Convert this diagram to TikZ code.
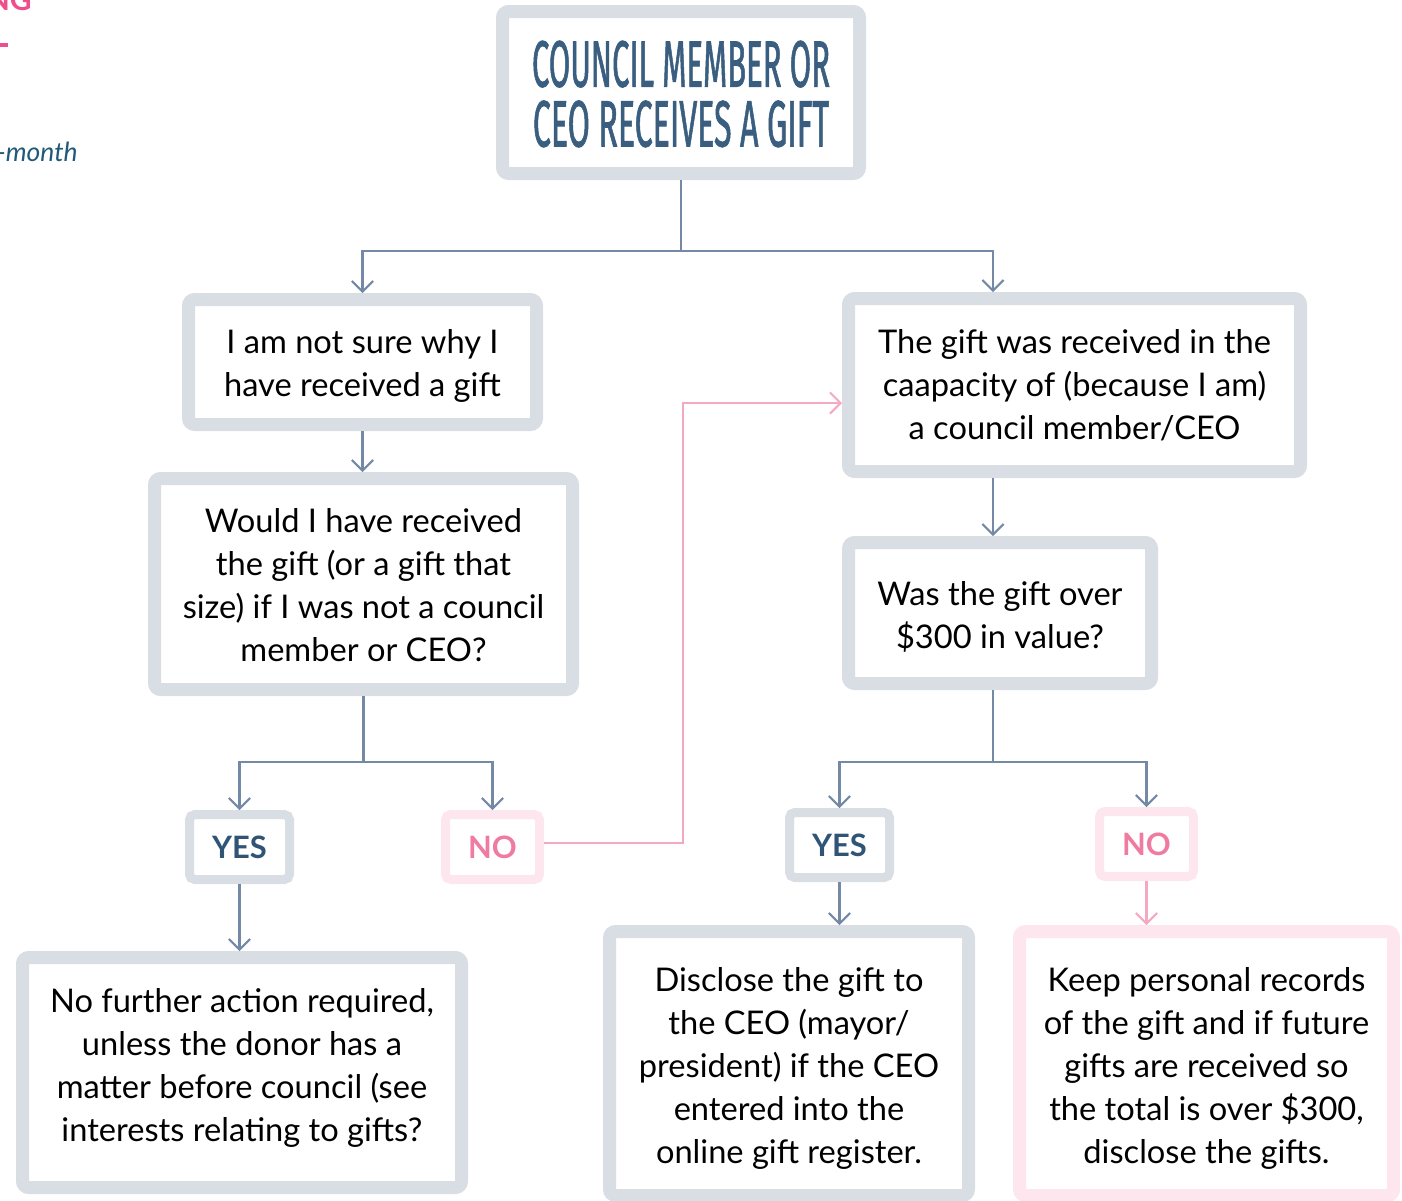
\documentclass[tikz,border=0pt]{standalone}
\usepackage{graphicx}
\usepackage{fontspec}
\setmainfont{Lato}
\newfontfamily\titlefont[FakeBold=1.6]{Fira Sans}
\usetikzlibrary{arrows.meta}
\definecolor{gborder}{HTML}{D9DEE4}
\definecolor{pborder}{HTML}{FDE6ED}
\definecolor{connc}{HTML}{7489A6}
\definecolor{pconnc}{HTML}{F5A8C2}
\definecolor{titlec}{HTML}{3A5E7F}
\definecolor{yesc}{HTML}{2F5475}
\definecolor{noc}{HTML}{EF7BA1}
\definecolor{hdc}{HTML}{EE4F8C}
\definecolor{monthc}{HTML}{1F5A78}
\def\u{0.56712pt}
\begin{document}
\begin{tikzpicture}[x=0.56712pt, y=-0.56712pt,
  bigbox/.style={draw=gborder, fill=white, line width=13*\u, rounded corners=3.5pt, inner sep=0pt},
  pinkbig/.style={bigbox, draw=pborder},
  txt/.style={align=center, inner sep=0pt, font=\fontsize{18.5}{24.4}\selectfont},
  smallbox/.style={draw=gborder, fill=white, line width=9*\u, rounded corners=3pt,
    align=center, inner sep=0pt, minimum width=100*\u, minimum height=65*\u,
    font=\fontsize{17.5}{20}\selectfont\bfseries, text=yesc},
  pinksmall/.style={smallbox, draw=pborder, minimum width=94*\u, text=noc},
  connl/.style={draw=connc, line width=1.2pt, -{Straight Barb[length=6pt,width=12pt]}},
  pconnl/.style={connl, draw=pconnc},
  titletext/.style={text=titlec, inner sep=0pt, align=center}
]
\useasboundingbox (0,0) rectangle (1402,1200);

% fragments at top-left
\node[anchor=base east, text=hdc, inner sep=0pt, font=\fontsize{17}{17}\selectfont\bfseries] (hd) at (32,10) {NG};
\fill[hdc] (0,43) rectangle (8,47);
\node[anchor=base east, text=monthc, inner sep=0pt, font=\fontsize{15}{18}\selectfont\itshape] (mo) at (78,161) {-month};

% title
\node[bigbox, minimum width=357*\u, minimum height=162*\u] (t) at (681,92.5) {};
\node[titletext] (tt) at (681,94)
  {\resizebox{169pt}{26pt}{\titlefont COUNCIL MEMBER OR}\\[6.5pt]%
   \resizebox{168pt}{26pt}{\titlefont CEO RECEIVES A GIFT}};

% boxes
\node[bigbox, minimum width=348*\u, minimum height=125*\u] (b1) at (362.5,362) {};
\node[txt] (b1t) at ([yshift={-4*\u}]b1.center) {I am not sure why I\\have received a gift};
\node[bigbox, minimum width=418*\u, minimum height=211*\u] (b2) at (363.5,584) {};
\node[txt] (b2t) at ([yshift={-1*\u}]b2.center) {Would I have received\\the gift (or a gift that\\size) if I was not a council\\member or CEO?};
\node[bigbox, minimum width=452*\u, minimum height=173*\u] (b3) at (1074.5,385) {};
\node[txt] (b3t) at (b3.center) {The gift was received in the\\caapacity of (because I am)\\a council member/CEO};
\node[bigbox, minimum width=303*\u, minimum height=141*\u] (b4) at (1000,613) {};
\node[txt] (b4t) at ([yshift={-3.5*\u}]b4.center) {Was the gift over\\\$300 in value?};
\node[smallbox] (y1) at (239.5,847) {YES};
\node[pinksmall] (n1) at (492.5,847) {NO};
\node[smallbox] (y2) at (839.5,845) {YES};
\node[pinksmall] (n2) at (1146.5,844) {NO};
\node[bigbox, minimum width=439*\u, minimum height=230*\u] (b5) at (242,1072.5) {};
\node[txt] (b5t) at ([yshift={5*\u}]b5.center) {No further action required,\\unless the donor has a\\matter before council (see\\interests relating to gifts?};
\node[bigbox, minimum width=359*\u, minimum height=264*\u] (b6) at (789,1063.5) {};
\node[txt] (b6t) at ([yshift={-5*\u}]b6.center) {Disclose the gift to\\the CEO (mayor/\\president) if the CEO\\entered into the\\online gift register.};
\node[pinkbig, minimum width=374*\u, minimum height=264*\u] (b7) at (1206.5,1063.5) {};
\node[txt] (b7t) at ([yshift={-5*\u}]b7.center) {Keep personal records\\of the gift and if future\\gifts are received so\\the total is over \$300,\\disclose the gifts.};

% connectors
\coordinate (cr) at (993,0);
\coordinate (pk) at (683,403);
\draw[connl] (t.south) -- ++(0,71) -| (b1.north);
\draw[connl] (t.south) -- ++(0,71) -| (cr |- b3.north);
\draw[connl] (b1.south) -- (b1.south |- b2.north);
\draw[connl] (b2.south) -- ++(0,66) -| (y1.north);
\draw[connl] (b2.south) -- ++(0,66) -| (n1.north);
\draw[connl] (y1.south) -- (y1.south |- b5.north);
\draw[pconnl] ([yshift={4*\u}]n1.east) -| (pk) -- (pk -| b3.west);
\draw[connl] (cr |- b3.south) -- (cr |- b4.north);
\draw[connl] (cr |- b4.south) -- ++(0,72) -| (y2.north);
\draw[connl] (cr |- b4.south) -- ++(0,72) -| (n2.north);
\draw[connl] (y2.south) -- (y2.south |- b6.north);
\draw[pconnl] (n2.south) -- (n2.south |- b7.north);
\end{tikzpicture}
\end{document}
